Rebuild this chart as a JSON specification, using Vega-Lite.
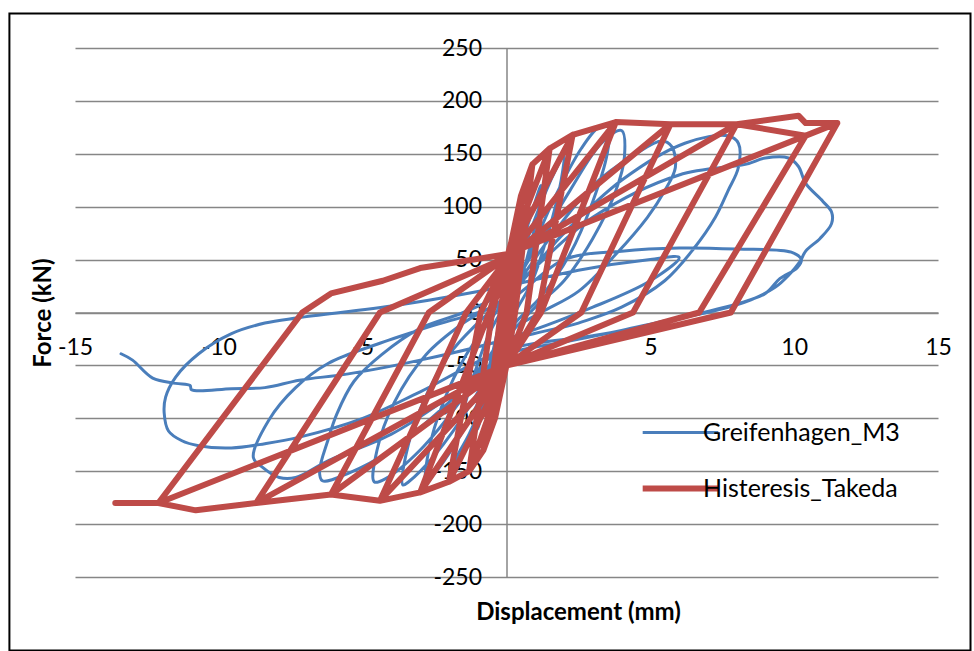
{
  "$schema": "https://vega.github.io/schema/vega-lite/v6.json",
  "autosize": {"type": "none"},
  "width": 863,
  "height": 529,
  "padding": {"left": 75, "top": 48, "right": 36, "bottom": 74},
  "background": "white",
  "config": {"view": {"stroke": null}, "font": "Lato"},
  "datasets": {
    "blue": [
      {"i":1,"x":0,"y":0},{"i":2,"x":0.3,"y":40},{"i":3,"x":0.6,"y":80},{"i":4,"x":0.5,"y":60},{"i":5,"x":0.2,"y":20},
      {"i":6,"x":0,"y":-10},{"i":7,"x":-0.3,"y":-45},{"i":8,"x":-0.5,"y":-75},{"i":9,"x":-0.4,"y":-55},{"i":10,"x":-0.1,"y":-15},
      {"i":11,"x":0,"y":5},{"i":12,"x":0.5,"y":60},{"i":13,"x":1.0,"y":105},{"i":14,"x":1.2,"y":120},{"i":15,"x":1.1,"y":95},
      {"i":16,"x":0.7,"y":50},{"i":17,"x":0.3,"y":10},{"i":18,"x":0,"y":-15},{"i":19,"x":-0.5,"y":-65},{"i":20,"x":-0.9,"y":-100},
      {"i":21,"x":-1.0,"y":-110},{"i":22,"x":-0.9,"y":-85},{"i":23,"x":-0.5,"y":-40},{"i":24,"x":-0.2,"y":-5},{"i":25,"x":0,"y":15},
      {"i":26,"x":0.6,"y":60},{"i":27,"x":1.3,"y":110},{"i":28,"x":1.8,"y":140},{"i":29,"x":2.0,"y":150},{"i":30,"x":1.9,"y":125},
      {"i":31,"x":1.5,"y":80},{"i":32,"x":0.9,"y":30},{"i":33,"x":0.3,"y":0},{"i":34,"x":0,"y":-20},{"i":35,"x":-0.6,"y":-70},
      {"i":36,"x":-1.3,"y":-115},{"i":37,"x":-1.7,"y":-135},{"i":38,"x":-1.8,"y":-142},{"i":39,"x":-1.7,"y":-115},{"i":40,"x":-1.2,"y":-65},
      {"i":41,"x":-0.6,"y":-20},{"i":42,"x":0,"y":10},{"i":43,"x":0.8,"y":55},{"i":44,"x":1.7,"y":110},{"i":45,"x":2.6,"y":155},
      {"i":46,"x":3.2,"y":175},{"i":47,"x":3.55,"y":177},{"i":48,"x":3.5,"y":150},{"i":49,"x":3.0,"y":105},{"i":50,"x":2.2,"y":55},
      {"i":51,"x":1.2,"y":15},{"i":52,"x":0.3,"y":-10},{"i":53,"x":0,"y":-25},{"i":54,"x":-0.8,"y":-75},{"i":55,"x":-1.8,"y":-125},
      {"i":56,"x":-2.5,"y":-152},{"i":57,"x":-2.8,"y":-160},{"i":58,"x":-2.7,"y":-130},{"i":59,"x":-2.2,"y":-85},{"i":60,"x":-1.4,"y":-40},
      {"i":61,"x":-0.5,"y":-5},{"i":62,"x":0,"y":15},{"i":63,"x":1.0,"y":60},{"i":64,"x":2.2,"y":115},{"i":65,"x":3.3,"y":160},
      {"i":66,"x":4.0,"y":172},{"i":67,"x":4.1,"y":147},{"i":68,"x":3.8,"y":115},{"i":69,"x":3.0,"y":70},{"i":70,"x":2.0,"y":30},
      {"i":71,"x":1.0,"y":5},{"i":72,"x":0,"y":-25},{"i":73,"x":-1.2,"y":-85},{"i":74,"x":-2.5,"y":-135},{"i":75,"x":-3.4,"y":-160},
      {"i":76,"x":-3.6,"y":-163},{"i":77,"x":-3.5,"y":-135},{"i":78,"x":-2.9,"y":-85},{"i":79,"x":-2.0,"y":-40},{"i":80,"x":-1.0,"y":-10},
      {"i":81,"x":0,"y":15},{"i":82,"x":1.5,"y":70},{"i":83,"x":3.0,"y":120},{"i":84,"x":4.5,"y":150},{"i":85,"x":5.4,"y":162},
      {"i":86,"x":5.74,"y":157},{"i":87,"x":5.87,"y":137},{"i":88,"x":5.5,"y":115},{"i":89,"x":4.9,"y":90},{"i":90,"x":3.8,"y":55},
      {"i":91,"x":2.5,"y":20},{"i":92,"x":1.2,"y":0},{"i":93,"x":0,"y":-20},{"i":94,"x":-1.5,"y":-80},{"i":95,"x":-3.0,"y":-130},
      {"i":96,"x":-4.2,"y":-157},{"i":97,"x":-4.6,"y":-160},{"i":98,"x":-4.5,"y":-130},{"i":99,"x":-3.9,"y":-85},{"i":100,"x":-2.8,"y":-40},
      {"i":101,"x":-1.5,"y":-10},{"i":102,"x":0,"y":15},{"i":103,"x":2,"y":75},{"i":104,"x":4,"y":125},{"i":105,"x":6.2,"y":160},
      {"i":106,"x":7.7,"y":167},{"i":107,"x":8.06,"y":160},{"i":108,"x":8.06,"y":137},{"i":109,"x":7.7,"y":115},{"i":110,"x":7.26,"y":90},
      {"i":111,"x":6.5,"y":60},{"i":112,"x":5.5,"y":30},{"i":113,"x":4,"y":5},{"i":114,"x":2.5,"y":-10},{"i":115,"x":0,"y":-30},
      {"i":116,"x":-2,"y":-85},{"i":117,"x":-4,"y":-130},{"i":118,"x":-5.5,"y":-152},{"i":119,"x":-6.4,"y":-159},{"i":120,"x":-6.5,"y":-150},
      {"i":121,"x":-6.2,"y":-120},{"i":122,"x":-5.9,"y":-96},{"i":123,"x":-5.3,"y":-65},{"i":124,"x":-4.35,"y":-40},{"i":125,"x":-3,"y":-15},
      {"i":126,"x":-1.5,"y":0},{"i":127,"x":0,"y":20},{"i":128,"x":3,"y":90},{"i":129,"x":6,"y":130},{"i":130,"x":8.3,"y":140},
      {"i":131,"x":9.0,"y":146},{"i":132,"x":9.8,"y":146},{"i":133,"x":10.15,"y":138},{"i":134,"x":10.4,"y":122},{"i":135,"x":11.0,"y":105},
      {"i":136,"x":11.3,"y":95},{"i":137,"x":11.3,"y":84},{"i":138,"x":10.9,"y":70},{"i":139,"x":10.4,"y":58},{"i":140,"x":10.2,"y":48},
      {"i":141,"x":9.8,"y":35},{"i":142,"x":9.35,"y":24},{"i":143,"x":8.5,"y":12},{"i":144,"x":7.3,"y":2},{"i":145,"x":5.5,"y":-8},
      {"i":146,"x":4,"y":-17},{"i":147,"x":2,"y":-28},{"i":148,"x":0,"y":-40},{"i":149,"x":-2,"y":-80},{"i":150,"x":-4,"y":-115},
      {"i":151,"x":-6.19,"y":-140},{"i":152,"x":-7.33,"y":-156},{"i":153,"x":-7.9,"y":-156},{"i":154,"x":-8.5,"y":-146},{"i":155,"x":-8.8,"y":-137},
      {"i":156,"x":-8.27,"y":-102},{"i":157,"x":-7.33,"y":-71},{"i":158,"x":-6.19,"y":-48},{"i":159,"x":-4.5,"y":-30},{"i":160,"x":-2.5,"y":-12},
      {"i":161,"x":0,"y":10},{"i":162,"x":2,"y":50},{"i":163,"x":4,"y":58},{"i":164,"x":6,"y":61},{"i":165,"x":8,"y":60},
      {"i":166,"x":9.9,"y":57},{"i":167,"x":10.25,"y":50},{"i":168,"x":10.1,"y":42},{"i":169,"x":9.5,"y":32},{"i":170,"x":9,"y":18},
      {"i":171,"x":8,"y":8},{"i":172,"x":6.7,"y":-1},{"i":173,"x":5,"y":-12},{"i":174,"x":3,"y":-22},{"i":175,"x":0,"y":-35},
      {"i":176,"x":-3,"y":-75},{"i":177,"x":-5,"y":-100},{"i":178,"x":-7.23,"y":-118},{"i":179,"x":-8.4,"y":-124},{"i":180,"x":-9.56,"y":-128},
      {"i":181,"x":-10.7,"y":-126},{"i":182,"x":-11.3,"y":-121},{"i":183,"x":-11.75,"y":-112},{"i":184,"x":-11.9,"y":-95},{"i":185,"x":-11.85,"y":-80},
      {"i":186,"x":-11.5,"y":-61},{"i":187,"x":-10.7,"y":-39},{"i":188,"x":-9.56,"y":-20},{"i":189,"x":-8.4,"y":-10},{"i":190,"x":-7.23,"y":-5},
      {"i":191,"x":-3.75,"y":7},{"i":192,"x":0,"y":25},{"i":193,"x":2.5,"y":40},{"i":194,"x":5,"y":50},{"i":195,"x":6,"y":52},
      {"i":196,"x":5,"y":30},{"i":197,"x":3,"y":5},{"i":198,"x":0,"y":-25},{"i":199,"x":-3,"y":-45},{"i":200,"x":-5.5,"y":-58},
      {"i":201,"x":-7.2,"y":-64},{"i":202,"x":-8.4,"y":-71},{"i":203,"x":-9.56,"y":-72},{"i":204,"x":-10.95,"y":-73},{"i":205,"x":-11.0,"y":-69},
      {"i":206,"x":-11.5,"y":-67},{"i":207,"x":-12.3,"y":-62},{"i":208,"x":-13.0,"y":-45},{"i":209,"x":-13.4,"y":-39}
    ],
    "red": [
      {"i":1,"x":0,"y":0},{"i":2,"x":0.1,"y":45},{"i":3,"x":0.5,"y":110},{"i":4,"x":0.15,"y":0},{"i":5,"x":0,"y":-45},
      {"i":6,"x":-0.4,"y":-100},{"i":7,"x":-0.05,"y":0},{"i":8,"x":0,"y":45},{"i":9,"x":0.5,"y":110},{"i":10,"x":0.9,"y":140},
      {"i":11,"x":0.3,"y":0},{"i":12,"x":0,"y":-50},{"i":13,"x":-0.4,"y":-100},{"i":14,"x":-0.8,"y":-130},{"i":15,"x":-0.2,"y":0},
      {"i":16,"x":0,"y":50},{"i":17,"x":0.9,"y":140},{"i":18,"x":1.5,"y":155},{"i":19,"x":0.7,"y":0},{"i":20,"x":0,"y":-50},
      {"i":21,"x":-0.8,"y":-130},{"i":22,"x":-1.3,"y":-150},{"i":23,"x":-0.5,"y":0},{"i":24,"x":0,"y":50},{"i":25,"x":1.5,"y":155},
      {"i":26,"x":2.3,"y":168},{"i":27,"x":1.1,"y":0},{"i":28,"x":0,"y":-50},{"i":29,"x":-1.3,"y":-150},{"i":30,"x":-2.0,"y":-160},
      {"i":31,"x":-0.9,"y":0},{"i":32,"x":0,"y":50},{"i":33,"x":2.3,"y":168},{"i":34,"x":3.8,"y":180},{"i":35,"x":1.2,"y":0},
      {"i":36,"x":0,"y":-50},{"i":37,"x":-2.0,"y":-160},{"i":38,"x":-3.0,"y":-170},{"i":39,"x":-0.6,"y":0},{"i":40,"x":0,"y":50},
      {"i":41,"x":3.8,"y":180},{"i":42,"x":5.7,"y":178},{"i":43,"x":2.6,"y":0},{"i":44,"x":0,"y":-50},{"i":45,"x":-3.0,"y":-170},
      {"i":46,"x":-4.4,"y":-178},{"i":47,"x":-1.4,"y":0},{"i":48,"x":0,"y":50},{"i":49,"x":5.7,"y":178},{"i":50,"x":8.0,"y":178},
      {"i":51,"x":4.4,"y":0},{"i":52,"x":0,"y":-50},{"i":53,"x":-4.4,"y":-178},{"i":54,"x":-6.1,"y":-172},{"i":55,"x":-2.7,"y":0},
      {"i":56,"x":0,"y":52},{"i":57,"x":8.0,"y":178},{"i":58,"x":10.4,"y":167},{"i":59,"x":6.7,"y":0},{"i":60,"x":0,"y":-50},
      {"i":61,"x":-6.1,"y":-172},{"i":62,"x":-8.7,"y":-180},{"i":63,"x":-4.4,"y":0},{"i":64,"x":0,"y":52},{"i":65,"x":8.0,"y":178},
      {"i":66,"x":10.15,"y":186},{"i":67,"x":10.4,"y":179},{"i":68,"x":11.5,"y":179},{"i":69,"x":7.8,"y":0},{"i":70,"x":0,"y":-50},
      {"i":71,"x":-8.7,"y":-180},{"i":72,"x":-10.8,"y":-187},{"i":73,"x":-12.1,"y":-180},{"i":74,"x":-7.1,"y":0},{"i":75,"x":-6.1,"y":18},
      {"i":76,"x":-4.3,"y":30},{"i":77,"x":-3.0,"y":42},{"i":78,"x":0,"y":55},{"i":79,"x":11.5,"y":179},{"i":80,"x":7.8,"y":0},
      {"i":81,"x":0,"y":-50},{"i":82,"x":-12.1,"y":-180},{"i":83,"x":-13.6,"y":-180}
    ]
  },
  "layer": [
    {
      "data": {"values": [{"x0": -17.28, "x1": 16.13, "y0": 282.5, "y1": -319.4}]},
      "mark": {"type": "rect", "fillOpacity": 0, "stroke": "black", "strokeWidth": 2, "clip": false},
      "encoding": {
        "x": {"field": "x0", "type": "quantitative", "scale": {"domain": [-15, 15], "nice": false, "zero": false}},
        "x2": {"field": "x1"},
        "y": {"field": "y0", "type": "quantitative", "scale": {"domain": [-250, 250], "nice": false, "zero": false}},
        "y2": {"field": "y1"}
      }
    },
    {
      "data": {"name": "blue"},
      "mark": {"type": "line", "strokeWidth": 3, "strokeJoin": "round", "strokeCap": "round", "interpolate": "catmull-rom"},
      "encoding": {
        "x": {
          "field": "x", "type": "quantitative",
          "scale": {"domain": [-15, 15], "nice": false, "zero": false},
          "axis": {
            "title": "Displacement (mm)", "values": [-15, -10, -5, 0, 5, 10, 15],
            "labelExpr": "'' + datum.value",
            "offset": -264.5, "domain": true, "domainColor": "#868686", "domainWidth": 1.5,
            "ticks": false, "grid": false, "labelFont": "Lato", "labelFontSize": 23, "labelColor": "black",
            "labelPadding": 24, "labelFlush": false, "labelOverlap": false,
            "titleFont": "Lato", "titleFontSize": 24, "titleFontWeight": "bold", "titleColor": "black",
            "titleX": 503, "titleY": 300, "titleAlign": "center", "titleBaseline": "middle"
          }
        },
        "y": {
          "field": "y", "type": "quantitative",
          "scale": {"domain": [-250, 250], "nice": false, "zero": false},
          "axis": {
            "title": "Force (kN)", "values": [-250, -200, -150, -100, -50, 0, 50, 100, 150, 200, 250],
            "labelExpr": "'' + datum.value",
            "offset": -431.5, "domain": true, "domainColor": "#868686", "domainWidth": 1.5,
            "ticks": false, "grid": true, "gridColor": "#868686", "gridWidth": 1.5,
            "labelFont": "Lato", "labelFontSize": 23, "labelColor": "black", "labelPadding": 25,
            "labelOverlap": false, "labelFlush": false,
            "titleFont": "Lato", "titleFontSize": 24, "titleFontWeight": "bold", "titleColor": "black",
            "titleX": -463, "titleY": 264.5, "titleAngle": -90, "titleAlign": "center", "titleBaseline": "middle"
          }
        },
        "order": {"field": "i", "type": "quantitative"},
        "color": {
          "datum": "Greifenhagen_M3", "type": "nominal",
          "scale": {"domain": ["Greifenhagen_M3", "Histeresis_Takeda"], "range": ["#4A7EBB", "#BE4B48"]},
          "legend": {
            "orient": "none", "legendX": 593, "legendY": 372, "title": null,
            "symbolType": "stroke", "symbolSize": 5720, "symbolStrokeWidth": 3,
            "labelFont": "Lato", "labelFontSize": 25, "labelColor": "black", "labelOffset": 10,
            "labelLimit": 0, "rowPadding": 30, "padding": 0,
            "encode": {"symbols": {"update": {"strokeWidth": {"signal": "datum.value === 'Histeresis_Takeda' ? 6 : 3"}}}}
          }
        }
      }
    },
    {
      "data": {"name": "red"},
      "mark": {"type": "line", "strokeWidth": 6, "strokeJoin": "round", "strokeCap": "round"},
      "encoding": {
        "x": {"field": "x", "type": "quantitative", "scale": {"domain": [-15, 15], "nice": false, "zero": false}},
        "y": {"field": "y", "type": "quantitative", "scale": {"domain": [-250, 250], "nice": false, "zero": false}},
        "order": {"field": "i", "type": "quantitative"},
        "color": {"datum": "Histeresis_Takeda", "type": "nominal"}
      }
    }
  ]
}
